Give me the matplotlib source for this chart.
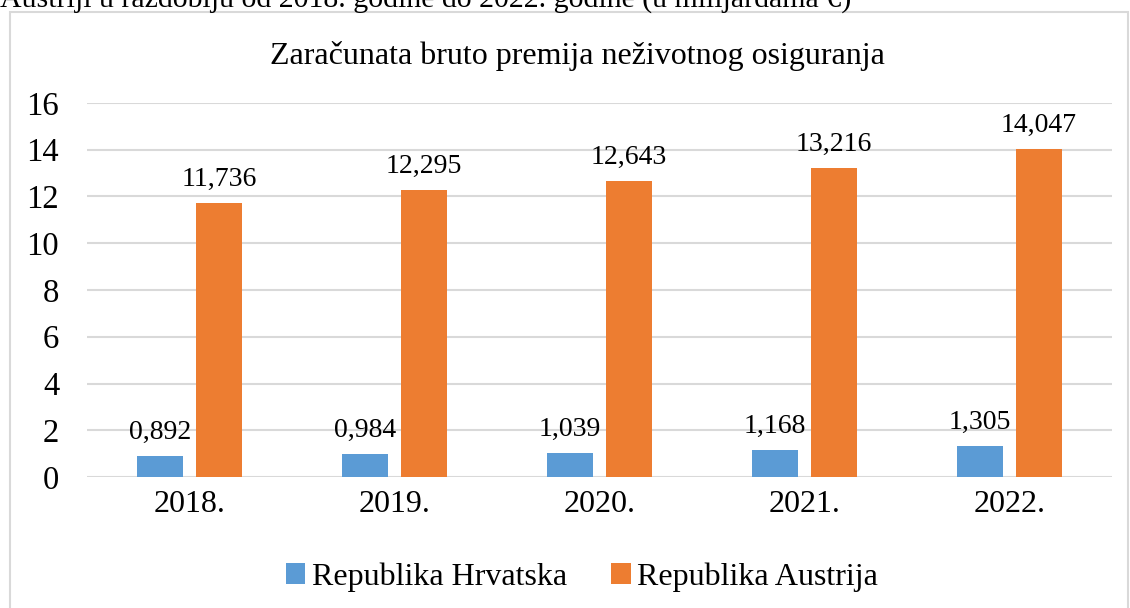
import matplotlib
matplotlib.use("Agg")
import matplotlib.pyplot as plt
from matplotlib.patches import Rectangle
import numpy as np

plt.rcParams['font.family'] = ['Liberation Serif', 'DejaVu Serif']

years = ["2018.", "2019.", "2020.", "2021.", "2022."]
hrvatska = [0.892, 0.984, 1.039, 1.168, 1.305]
austrija = [11.736, 12.295, 12.643, 13.216, 14.047]
series_names = ["Republika Hrvatska", "Republika Austrija"]
title = "Zaračunata bruto premija neživotnog osiguranja"
caption = "Austriji u razdoblju od 2018. godine do 2022. godine (u milijardama €)"
yticks = [0, 2, 4, 6, 8, 10, 12, 14, 16]

W, H = 1130, 608
fig = plt.figure(figsize=(W/100, H/100), dpi=100)
ax = fig.add_axes([87/W, 1-477/H, (1112-87)/W, (477-103)/H])

x = np.arange(len(years))
bw = 0.224
off = 0.144
b1 = ax.bar(x - off, hrvatska, bw, color="#5B9BD5", label=series_names[0], zorder=3)
b2 = ax.bar(x + off, austrija, bw, color="#ED7D31", label=series_names[1], zorder=3)

def fmt(v):
    return f"{v:.3f}".replace(".", ",")

for bars, vals in ((b1, hrvatska), (b2, austrija)):
    for r, v in zip(bars, vals):
        ax.annotate(fmt(v), (r.get_x() + r.get_width()/2, v), xytext=(0, 8),
                    textcoords="offset points", ha="center", va="bottom",
                    fontsize=20, color="#000000")

ax.set_xlim(-0.5, len(years) - 0.5)
ax.set_ylim(0, 16)
ax.set_yticks(yticks)
ax.set_yticklabels([str(t) for t in yticks], fontsize=23.5)
ax.set_xticks(x)
ax.set_xticklabels(years, fontsize=23)
ax.tick_params(length=0)
ax.tick_params(axis='x', pad=9)
ax.tick_params(axis='y', pad=20)
ax.grid(axis='y', color="#D9D9D9", linewidth=1.5, zorder=0)
for s in ax.spines.values():
    s.set_visible(False)

fig.text(270/W, 1-56/H, title, fontsize=23, ha="left", va="center")
fig.text(0/W, 1-0/H, caption, fontsize=21.5, ha="left", va="center")

fig.legend(loc="center", bbox_to_anchor=(582/W, 1-577/H), ncol=2, frameon=False,
           fontsize=23, handlelength=0.6, handleheight=0.6, handletextpad=0.2,
           columnspacing=1.4)

fig.patches.append(Rectangle((10/W, -0.05), (W-12)/W, 1-12/H+0.05,
                             transform=fig.transFigure, fill=False,
                             edgecolor="#D9D9D9", linewidth=1.5))

fig.savefig("out.png", dpi=100, facecolor="white")
